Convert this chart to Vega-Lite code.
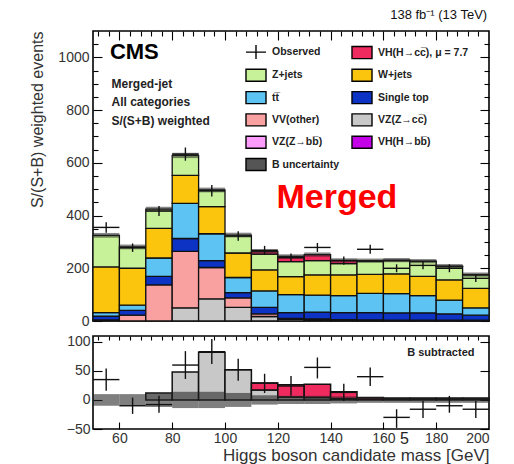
{
  "$schema": "https://vega.github.io/schema/vega-lite/v6.json",
  "padding": {"left": 29, "top": 8, "right": 0, "bottom": 0},
  "background": "white",
  "config": {
    "view": {"stroke": "#000", "strokeWidth": 1.6},
    "font": "Liberation Sans",
    "axis": {"grid": false, "domain": false, "labelFont": "Liberation Sans", "labelColor": "#333", "tickColor": "#000", "tickWidth": 1.1, "titleFont": "Liberation Sans", "titleFontWeight": "normal", "titleColor": "#333"},
    "legend": {"labelFont": "Liberation Sans"}
  },
  "datasets": {
    "top": [
      {"lo": 50, "hi": 60, "proc": "VV(other)", "k": 2, "v": 4},
      {"lo": 50, "hi": 60, "proc": "Single top", "k": 3, "v": 14},
      {"lo": 50, "hi": 60, "proc": "tt\u0305", "k": 4, "v": 14},
      {"lo": 50, "hi": 60, "proc": "W+jets", "k": 5, "v": 173},
      {"lo": 50, "hi": 60, "proc": "Z+jets", "k": 6, "v": 120},
      {"lo": 60, "hi": 70, "proc": "VV(other)", "k": 2, "v": 22},
      {"lo": 60, "hi": 70, "proc": "Single top", "k": 3, "v": 18},
      {"lo": 60, "hi": 70, "proc": "tt\u0305", "k": 4, "v": 20},
      {"lo": 60, "hi": 70, "proc": "W+jets", "k": 5, "v": 140},
      {"lo": 60, "hi": 70, "proc": "Z+jets", "k": 6, "v": 81},
      {"lo": 70, "hi": 80, "proc": "VV(other)", "k": 2, "v": 137},
      {"lo": 70, "hi": 80, "proc": "Single top", "k": 3, "v": 32},
      {"lo": 70, "hi": 80, "proc": "tt\u0305", "k": 4, "v": 70},
      {"lo": 70, "hi": 80, "proc": "W+jets", "k": 5, "v": 112},
      {"lo": 70, "hi": 80, "proc": "Z+jets", "k": 6, "v": 73},
      {"lo": 80, "hi": 90, "proc": "VZ(Z\u2192cc\u0305)", "k": 1, "v": 50},
      {"lo": 80, "hi": 90, "proc": "VV(other)", "k": 2, "v": 214},
      {"lo": 80, "hi": 90, "proc": "Single top", "k": 3, "v": 49},
      {"lo": 80, "hi": 90, "proc": "tt\u0305", "k": 4, "v": 133},
      {"lo": 80, "hi": 90, "proc": "W+jets", "k": 5, "v": 106},
      {"lo": 80, "hi": 90, "proc": "Z+jets", "k": 6, "v": 76},
      {"lo": 90, "hi": 100, "proc": "VZ(Z\u2192cc\u0305)", "k": 1, "v": 84},
      {"lo": 90, "hi": 100, "proc": "VV(other)", "k": 2, "v": 119},
      {"lo": 90, "hi": 100, "proc": "Single top", "k": 3, "v": 26},
      {"lo": 90, "hi": 100, "proc": "tt\u0305", "k": 4, "v": 102},
      {"lo": 90, "hi": 100, "proc": "W+jets", "k": 5, "v": 103},
      {"lo": 90, "hi": 100, "proc": "Z+jets", "k": 6, "v": 63},
      {"lo": 100, "hi": 110, "proc": "VZ(Z\u2192cc\u0305)", "k": 1, "v": 52},
      {"lo": 100, "hi": 110, "proc": "VV(other)", "k": 2, "v": 36},
      {"lo": 100, "hi": 110, "proc": "Single top", "k": 3, "v": 20},
      {"lo": 100, "hi": 110, "proc": "tt\u0305", "k": 4, "v": 57},
      {"lo": 100, "hi": 110, "proc": "W+jets", "k": 5, "v": 93},
      {"lo": 100, "hi": 110, "proc": "Z+jets", "k": 6, "v": 68},
      {"lo": 110, "hi": 120, "proc": "VZ(Z\u2192cc\u0305)", "k": 1, "v": 17},
      {"lo": 110, "hi": 120, "proc": "VV(other)", "k": 2, "v": 10},
      {"lo": 110, "hi": 120, "proc": "Single top", "k": 3, "v": 25},
      {"lo": 110, "hi": 120, "proc": "tt\u0305", "k": 4, "v": 62},
      {"lo": 110, "hi": 120, "proc": "W+jets", "k": 5, "v": 80},
      {"lo": 110, "hi": 120, "proc": "Z+jets", "k": 6, "v": 60},
      {"lo": 110, "hi": 120, "proc": "VH(H\u2192cc\u0305), \u03bc = 7.7", "k": 7, "v": 10},
      {"lo": 120, "hi": 130, "proc": "VZ(Z\u2192cc\u0305)", "k": 1, "v": 6},
      {"lo": 120, "hi": 130, "proc": "VV(other)", "k": 2, "v": 4},
      {"lo": 120, "hi": 130, "proc": "Single top", "k": 3, "v": 22},
      {"lo": 120, "hi": 130, "proc": "tt\u0305", "k": 4, "v": 68},
      {"lo": 120, "hi": 130, "proc": "W+jets", "k": 5, "v": 68},
      {"lo": 120, "hi": 130, "proc": "Z+jets", "k": 6, "v": 57},
      {"lo": 120, "hi": 130, "proc": "VH(H\u2192cc\u0305), \u03bc = 7.7", "k": 7, "v": 20},
      {"lo": 130, "hi": 140, "proc": "VZ(Z\u2192cc\u0305)", "k": 1, "v": 4},
      {"lo": 130, "hi": 140, "proc": "VV(other)", "k": 2, "v": 4},
      {"lo": 130, "hi": 140, "proc": "Single top", "k": 3, "v": 26},
      {"lo": 130, "hi": 140, "proc": "tt\u0305", "k": 4, "v": 64},
      {"lo": 130, "hi": 140, "proc": "W+jets", "k": 5, "v": 77},
      {"lo": 130, "hi": 140, "proc": "Z+jets", "k": 6, "v": 54},
      {"lo": 130, "hi": 140, "proc": "VH(H\u2192cc\u0305), \u03bc = 7.7", "k": 7, "v": 23},
      {"lo": 140, "hi": 150, "proc": "VZ(Z\u2192cc\u0305)", "k": 1, "v": 2},
      {"lo": 140, "hi": 150, "proc": "VV(other)", "k": 2, "v": 3},
      {"lo": 140, "hi": 150, "proc": "Single top", "k": 3, "v": 27},
      {"lo": 140, "hi": 150, "proc": "tt\u0305", "k": 4, "v": 64},
      {"lo": 140, "hi": 150, "proc": "W+jets", "k": 5, "v": 79},
      {"lo": 140, "hi": 150, "proc": "Z+jets", "k": 6, "v": 43},
      {"lo": 140, "hi": 150, "proc": "VH(H\u2192cc\u0305), \u03bc = 7.7", "k": 7, "v": 12},
      {"lo": 150, "hi": 160, "proc": "VZ(Z\u2192cc\u0305)", "k": 1, "v": 1},
      {"lo": 150, "hi": 160, "proc": "VV(other)", "k": 2, "v": 3},
      {"lo": 150, "hi": 160, "proc": "Single top", "k": 3, "v": 28},
      {"lo": 150, "hi": 160, "proc": "tt\u0305", "k": 4, "v": 73},
      {"lo": 150, "hi": 160, "proc": "W+jets", "k": 5, "v": 72},
      {"lo": 150, "hi": 160, "proc": "Z+jets", "k": 6, "v": 49},
      {"lo": 150, "hi": 160, "proc": "VH(H\u2192cc\u0305), \u03bc = 7.7", "k": 7, "v": 3},
      {"lo": 160, "hi": 170, "proc": "VZ(Z\u2192cc\u0305)", "k": 1, "v": 1},
      {"lo": 160, "hi": 170, "proc": "VV(other)", "k": 2, "v": 2},
      {"lo": 160, "hi": 170, "proc": "Single top", "k": 3, "v": 28},
      {"lo": 160, "hi": 170, "proc": "tt\u0305", "k": 4, "v": 73},
      {"lo": 160, "hi": 170, "proc": "W+jets", "k": 5, "v": 75},
      {"lo": 160, "hi": 170, "proc": "Z+jets", "k": 6, "v": 50},
      {"lo": 160, "hi": 170, "proc": "VH(H\u2192cc\u0305), \u03bc = 7.7", "k": 7, "v": 2},
      {"lo": 170, "hi": 180, "proc": "VZ(Z\u2192cc\u0305)", "k": 1, "v": 1},
      {"lo": 170, "hi": 180, "proc": "VV(other)", "k": 2, "v": 2},
      {"lo": 170, "hi": 180, "proc": "Single top", "k": 3, "v": 28},
      {"lo": 170, "hi": 180, "proc": "tt\u0305", "k": 4, "v": 65},
      {"lo": 170, "hi": 180, "proc": "W+jets", "k": 5, "v": 73},
      {"lo": 170, "hi": 180, "proc": "Z+jets", "k": 6, "v": 57},
      {"lo": 170, "hi": 180, "proc": "VH(H\u2192cc\u0305), \u03bc = 7.7", "k": 7, "v": 1},
      {"lo": 180, "hi": 190, "proc": "VZ(Z\u2192cc\u0305)", "k": 1, "v": 1},
      {"lo": 180, "hi": 190, "proc": "VV(other)", "k": 2, "v": 2},
      {"lo": 180, "hi": 190, "proc": "Single top", "k": 3, "v": 24},
      {"lo": 180, "hi": 190, "proc": "tt\u0305", "k": 4, "v": 52},
      {"lo": 180, "hi": 190, "proc": "W+jets", "k": 5, "v": 77},
      {"lo": 180, "hi": 190, "proc": "Z+jets", "k": 6, "v": 51},
      {"lo": 180, "hi": 190, "proc": "VH(H\u2192cc\u0305), \u03bc = 7.7", "k": 7, "v": 1},
      {"lo": 190, "hi": 200, "proc": "VZ(Z\u2192cc\u0305)", "k": 1, "v": 1},
      {"lo": 190, "hi": 200, "proc": "VV(other)", "k": 2, "v": 2},
      {"lo": 190, "hi": 200, "proc": "Single top", "k": 3, "v": 19},
      {"lo": 190, "hi": 200, "proc": "tt\u0305", "k": 4, "v": 28},
      {"lo": 190, "hi": 200, "proc": "W+jets", "k": 5, "v": 74},
      {"lo": 190, "hi": 200, "proc": "Z+jets", "k": 6, "v": 51},
      {"lo": 190, "hi": 200, "proc": "VH(H\u2192cc\u0305), \u03bc = 7.7", "k": 7, "v": 1}
    ],
    "bandTop": [
      {"lo": 50, "hi": 60, "low": 316, "high": 334},
      {"lo": 60, "hi": 70, "low": 272, "high": 290},
      {"lo": 70, "hi": 80, "low": 415, "high": 433},
      {"lo": 80, "hi": 90, "low": 618, "high": 638},
      {"lo": 90, "hi": 100, "low": 488, "high": 506},
      {"lo": 100, "hi": 110, "low": 317, "high": 335},
      {"lo": 110, "hi": 120, "low": 256, "high": 272},
      {"lo": 120, "hi": 130, "low": 237, "high": 253},
      {"lo": 130, "hi": 140, "low": 244, "high": 260},
      {"lo": 140, "hi": 150, "low": 222, "high": 238},
      {"lo": 150, "hi": 160, "low": 221, "high": 237},
      {"lo": 160, "hi": 170, "low": 223, "high": 239},
      {"lo": 170, "hi": 180, "low": 219, "high": 235},
      {"lo": 180, "hi": 190, "low": 200, "high": 216},
      {"lo": 190, "hi": 200, "low": 168, "high": 184}
    ],
    "obsTop": [
      {"c": 55, "lo": 50, "hi": 60, "n": 355, "elo": 335, "ehi": 375},
      {"c": 65, "lo": 60, "hi": 70, "n": 278, "elo": 262, "ehi": 294},
      {"c": 75, "lo": 70, "hi": 80, "n": 417, "elo": 398, "ehi": 436},
      {"c": 85, "lo": 80, "hi": 90, "n": 633, "elo": 608, "ehi": 658},
      {"c": 95, "lo": 90, "hi": 100, "n": 494, "elo": 472, "ehi": 516},
      {"c": 105, "lo": 100, "hi": 110, "n": 322, "elo": 304, "ehi": 340},
      {"c": 115, "lo": 110, "hi": 120, "n": 268, "elo": 251, "ehi": 285},
      {"c": 125, "lo": 120, "hi": 130, "n": 240, "elo": 224, "ehi": 256},
      {"c": 135, "lo": 130, "hi": 140, "n": 279, "elo": 262, "ehi": 296},
      {"c": 145, "lo": 140, "hi": 150, "n": 229, "elo": 213, "ehi": 245},
      {"c": 155, "lo": 150, "hi": 160, "n": 272, "elo": 255, "ehi": 289},
      {"c": 165, "lo": 160, "hi": 170, "n": 200, "elo": 185, "ehi": 215},
      {"c": 175, "lo": 170, "hi": 180, "n": 211, "elo": 196, "ehi": 226},
      {"c": 185, "lo": 180, "hi": 190, "n": 200, "elo": 185, "ehi": 215},
      {"c": 195, "lo": 190, "hi": 200, "n": 162, "elo": 148, "ehi": 176}
    ],
    "sig": [
      {"lo": 70, "hi": 80, "proc": "VZ(Z\u2192cc\u0305)", "k": 1, "v": 12},
      {"lo": 80, "hi": 90, "proc": "VZ(Z\u2192cc\u0305)", "k": 1, "v": 48},
      {"lo": 90, "hi": 100, "proc": "VZ(Z\u2192cc\u0305)", "k": 1, "v": 82},
      {"lo": 100, "hi": 110, "proc": "VZ(Z\u2192cc\u0305)", "k": 1, "v": 52},
      {"lo": 110, "hi": 120, "proc": "VZ(Z\u2192cc\u0305)", "k": 1, "v": 17},
      {"lo": 110, "hi": 120, "proc": "VH(H\u2192cc\u0305), \u03bc = 7.7", "k": 2, "v": 12},
      {"lo": 120, "hi": 130, "proc": "VZ(Z\u2192cc\u0305)", "k": 1, "v": 5},
      {"lo": 120, "hi": 130, "proc": "VH(H\u2192cc\u0305), \u03bc = 7.7", "k": 2, "v": 21},
      {"lo": 130, "hi": 140, "proc": "VZ(Z\u2192cc\u0305)", "k": 1, "v": 4},
      {"lo": 130, "hi": 140, "proc": "VH(H\u2192cc\u0305), \u03bc = 7.7", "k": 2, "v": 23},
      {"lo": 140, "hi": 150, "proc": "VZ(Z\u2192cc\u0305)", "k": 1, "v": 2},
      {"lo": 140, "hi": 150, "proc": "VH(H\u2192cc\u0305), \u03bc = 7.7", "k": 2, "v": 12},
      {"lo": 150, "hi": 160, "proc": "VZ(Z\u2192cc\u0305)", "k": 1, "v": 1},
      {"lo": 150, "hi": 160, "proc": "VH(H\u2192cc\u0305), \u03bc = 7.7", "k": 2, "v": 3},
      {"lo": 160, "hi": 170, "proc": "VZ(Z\u2192cc\u0305)", "k": 1, "v": 1},
      {"lo": 160, "hi": 170, "proc": "VH(H\u2192cc\u0305), \u03bc = 7.7", "k": 2, "v": 2},
      {"lo": 170, "hi": 180, "proc": "VZ(Z\u2192cc\u0305)", "k": 1, "v": 1},
      {"lo": 170, "hi": 180, "proc": "VH(H\u2192cc\u0305), \u03bc = 7.7", "k": 2, "v": 2},
      {"lo": 180, "hi": 190, "proc": "VZ(Z\u2192cc\u0305)", "k": 1, "v": 1},
      {"lo": 180, "hi": 190, "proc": "VH(H\u2192cc\u0305), \u03bc = 7.7", "k": 2, "v": 2},
      {"lo": 190, "hi": 200, "proc": "VZ(Z\u2192cc\u0305)", "k": 1, "v": 1},
      {"lo": 190, "hi": 200, "proc": "VH(H\u2192cc\u0305), \u03bc = 7.7", "k": 2, "v": 2}
    ],
    "bandBot": [
      {"lo": 50, "hi": 60, "low": -10, "high": 10},
      {"lo": 60, "hi": 70, "low": -10, "high": 10},
      {"lo": 70, "hi": 80, "low": -12, "high": 12},
      {"lo": 80, "hi": 90, "low": -14, "high": 14},
      {"lo": 90, "hi": 100, "low": -14, "high": 14},
      {"lo": 100, "hi": 110, "low": -12, "high": 12},
      {"lo": 110, "hi": 120, "low": -8, "high": 8},
      {"lo": 120, "hi": 130, "low": -7, "high": 7},
      {"lo": 130, "hi": 140, "low": -7, "high": 7},
      {"lo": 140, "hi": 150, "low": -6, "high": 6},
      {"lo": 150, "hi": 160, "low": -5, "high": 5},
      {"lo": 160, "hi": 170, "low": -5, "high": 5},
      {"lo": 170, "hi": 180, "low": -5, "high": 5},
      {"lo": 180, "hi": 190, "low": -5, "high": 5},
      {"lo": 190, "hi": 200, "low": -5, "high": 5}
    ],
    "obsBot": [
      {"c": 55, "lo": 50, "hi": 60, "d": 35, "elo": 16, "ehi": 54},
      {"c": 65, "lo": 60, "hi": 70, "d": -10, "elo": -24, "ehi": 4},
      {"c": 75, "lo": 70, "hi": 80, "d": -8, "elo": -22, "ehi": 7},
      {"c": 85, "lo": 80, "hi": 90, "d": 60, "elo": 36, "ehi": 84},
      {"c": 95, "lo": 90, "hi": 100, "d": 83, "elo": 62, "ehi": 105},
      {"c": 105, "lo": 100, "hi": 110, "d": 52, "elo": 33, "ehi": 71},
      {"c": 115, "lo": 110, "hi": 120, "d": 29, "elo": 12, "ehi": 45},
      {"c": 125, "lo": 120, "hi": 130, "d": 24, "elo": 7, "ehi": 41},
      {"c": 135, "lo": 130, "hi": 140, "d": 56, "elo": 37, "ehi": 73},
      {"c": 145, "lo": 140, "hi": 150, "d": 13, "elo": -2, "ehi": 28},
      {"c": 155, "lo": 150, "hi": 160, "d": 40, "elo": 24, "ehi": 56},
      {"c": 165, "lo": 160, "hi": 170, "d": -30, "elo": -48, "ehi": -16},
      {"c": 175, "lo": 170, "hi": 180, "d": -16, "elo": -31, "ehi": -2},
      {"c": 185, "lo": 180, "hi": 190, "d": -10, "elo": -22, "ehi": 7},
      {"c": 195, "lo": 190, "hi": 200, "d": -16, "elo": -31, "ehi": -2}
    ]
  },
  "vconcat": [
    {
      "width": 396,
      "height": 290,
      "resolve": {"axis": {"x": "independent", "y": "independent"}},
      "layer": [
        {
          "data": {"name": "top"},
          "transform": [{"stack": "v", "groupby": ["lo"], "sort": [{"field": "k", "order": "ascending"}], "as": ["y0", "y1"]}],
          "mark": {"type": "bar", "stroke": "#111", "strokeWidth": 1.3},
          "encoding": {
            "x": {"field": "lo", "type": "quantitative", "scale": {"domain": [50, 200], "nice": false, "zero": false},
                  "axis": {"orient": "bottom", "values": [60, 80, 100, 120, 140, 160, 180], "labels": false, "tickSize": -9, "title": null}},
            "x2": {"field": "hi"},
            "y": {"field": "y0", "type": "quantitative", "scale": {"domain": [0, 1100], "nice": false},
                  "axis": {"orient": "left", "values": [0, 200, 400, 600, 800, 1000], "format": "d", "ticks": false, "labelPadding": 4, "labelFontSize": 14,
                           "title": "S/(S+B) weighted events", "titleAnchor": "end", "titleFontSize": 16, "titlePadding": 12}},
            "y2": {"field": "y1"},
            "color": {
              "field": "proc", "type": "nominal",
              "scale": {
                "domain": ["Observed", "VH(H\u2192cc\u0305), \u03bc = 7.7", "Z+jets", "W+jets", "tt\u0305", "Single top", "VV(other)", "VZ(Z\u2192cc\u0305)", "VZ(Z\u2192bb\u0305)", "VH(H\u2192bb\u0305)", "B uncertainty"],
                "range": ["#000000", "#ee2a5e", "#c8f29a", "#fcc50d", "#5cc3f3", "#0d33c4", "#f9a1a1", "#c8c8c8", "#fd9cfd", "#c400e8", "#555555"]
              },
              "legend": {
                "orient": "none", "legendX": 155, "legendY": 13, "columns": 2, "direction": "horizontal", "title": null, "padding": 0,
                "symbolType": "M-1.43,-0.86H1.43V0.86H-1.43Z", "symbolSize": 196, "symbolStrokeColor": "#000", "symbolStrokeWidth": 1.4, "symbolOpacity": 1,
                "labelFontWeight": "bold", "labelFontSize": 10.5, "labelColor": "#222", "labelOffset": 8, "rowPadding": 4.3, "columnPadding": 9, "labelLimit": 200,
                "encode": {"symbols": {"update": {"shape": {"signal": "datum.value === 'Observed' ? 'M-1.43,0H1.43M0,-1V1' : 'M-1.43,-0.86H1.43V0.86H-1.43Z'"}}}}
              }
            }
          }
        },
        {
          "data": {"name": "bandTop"},
          "mark": {"type": "bar", "fill": "#222", "opacity": 0.55},
          "encoding": {
            "x": {"field": "lo", "type": "quantitative", "scale": {"domain": [50, 200], "nice": false, "zero": false},
                  "axis": {"orient": "top", "values": [60, 80, 100, 120, 140, 160, 180], "labels": false, "tickSize": -9, "title": null}},
            "x2": {"field": "hi"},
            "y": {"field": "low", "type": "quantitative", "scale": {"domain": [0, 1100], "nice": false},
                  "axis": {"orient": "left", "values": [0, 200, 400, 600, 800, 1000], "labels": false, "tickSize": -9, "title": null}},
            "y2": {"field": "high"}
          }
        },
        {
          "data": {"name": "obsTop"},
          "mark": {"type": "rule", "stroke": "#111", "strokeWidth": 1.4},
          "encoding": {
            "x": {"field": "lo", "type": "quantitative", "scale": {"domain": [50, 200], "nice": false, "zero": false},
                  "axis": {"orient": "bottom", "values": [52, 56, 64, 68, 72, 76, 84, 88, 92, 96, 104, 108, 112, 116, 124, 128, 132, 136, 144, 148, 152, 156, 164, 168, 172, 176, 184, 188, 192, 196], "labels": false, "tickSize": -5, "title": null}},
            "x2": {"field": "hi"},
            "y": {"field": "n", "type": "quantitative", "scale": {"domain": [0, 1100], "nice": false},
                  "axis": {"orient": "left", "values": [50, 100, 150, 250, 300, 350, 450, 500, 550, 650, 700, 750, 850, 900, 950, 1050], "labels": false, "tickSize": -5, "title": null}}
          }
        },
        {
          "data": {"name": "obsTop"},
          "mark": {"type": "rule", "stroke": "#111", "strokeWidth": 1.4},
          "encoding": {
            "x": {"field": "c", "type": "quantitative", "scale": {"domain": [50, 200], "nice": false, "zero": false},
                  "axis": {"orient": "top", "values": [52, 56, 64, 68, 72, 76, 84, 88, 92, 96, 104, 108, 112, 116, 124, 128, 132, 136, 144, 148, 152, 156, 164, 168, 172, 176, 184, 188, 192, 196], "labels": false, "tickSize": -5, "title": null}},
            "y": {"field": "elo", "type": "quantitative", "scale": {"domain": [0, 1100], "nice": false},
                  "axis": {"orient": "right", "values": [0, 200, 400, 600, 800, 1000], "labels": false, "tickSize": -9, "title": null}},
            "y2": {"field": "ehi"}
          }
        },
        {
          "data": {"values": [{"x": 56.4, "y": 994, "t": "CMS"}]},
          "mark": {"type": "text", "align": "left", "baseline": "alphabetic", "fontSize": 22, "fontWeight": "bold", "color": "#000"},
          "encoding": {
            "x": {"field": "x", "type": "quantitative", "scale": {"domain": [50, 200], "nice": false, "zero": false}, "axis": null},
            "y": {"field": "y", "type": "quantitative", "scale": {"domain": [0, 1100], "nice": false},
                  "axis": {"orient": "right", "values": [50, 100, 150, 250, 300, 350, 450, 500, 550, 650, 700, 750, 850, 900, 950, 1050], "labels": false, "tickSize": -5, "title": null}},
            "text": {"field": "t"}
          }
        },
        {
          "data": {"values": [{"x": 57, "y": 883, "t": "Merged-jet"}, {"x": 57, "y": 815, "t": "All categories"}, {"x": 57, "y": 743, "t": "S/(S+B) weighted"}]},
          "mark": {"type": "text", "align": "left", "baseline": "alphabetic", "fontSize": 12, "fontWeight": "bold", "color": "#222"},
          "encoding": {
            "x": {"field": "x", "type": "quantitative", "scale": {"domain": [50, 200], "nice": false, "zero": false}, "axis": null},
            "y": {"field": "y", "type": "quantitative", "scale": {"domain": [0, 1100], "nice": false}, "axis": null},
            "text": {"field": "t"}
          }
        },
        {
          "data": {"values": [{"x": 142.4, "y": 430, "t": "Merged"}]},
          "mark": {"type": "text", "align": "center", "baseline": "alphabetic", "fontSize": 34, "fontWeight": "bold", "color": "#ff0000"},
          "encoding": {
            "x": {"field": "x", "type": "quantitative", "scale": {"domain": [50, 200], "nice": false, "zero": false}, "axis": null},
            "y": {"field": "y", "type": "quantitative", "scale": {"domain": [0, 1100], "nice": false}, "axis": null},
            "text": {"field": "t"}
          }
        },
        {
          "data": {"values": [{"x": 199.3, "y": 1145, "t": "138 fb\u207b\u00b9 (13 TeV)"}]},
          "mark": {"type": "text", "align": "right", "baseline": "alphabetic", "fontSize": 13, "color": "#111"},
          "encoding": {
            "x": {"field": "x", "type": "quantitative", "scale": {"domain": [50, 200], "nice": false, "zero": false}, "axis": null},
            "y": {"field": "y", "type": "quantitative", "scale": {"domain": [0, 1100], "nice": false}, "axis": null},
            "text": {"field": "t"}
          }
        }
      ]
    },
    {
      "width": 396,
      "height": 93,
      "resolve": {"axis": {"x": "independent", "y": "independent"}},
      "layer": [
        {
          "data": {"name": "sig"},
          "transform": [{"stack": "v", "groupby": ["lo"], "sort": [{"field": "k", "order": "ascending"}], "as": ["y0", "y1"]}],
          "mark": {"type": "bar", "stroke": "#111", "strokeWidth": 1.5},
          "encoding": {
            "x": {"field": "lo", "type": "quantitative", "scale": {"domain": [50, 200], "nice": false, "zero": false},
                  "axis": {"orient": "bottom", "values": [60, 80, 100, 120, 140, 160, 180, 200], "ticks": false, "labelPadding": 2, "labelFontSize": 14,
                           "title": "Higgs boson candidate mass [GeV]", "titleAnchor": "end", "titleFontSize": 17, "titlePadding": 2}},
            "x2": {"field": "hi"},
            "y": {"field": "y0", "type": "quantitative", "scale": {"domain": [-50, 110], "nice": false, "zero": false},
                  "axis": {"orient": "left", "values": [-50, 0, 50, 100], "ticks": false, "labelPadding": 3, "labelFontSize": 14, "title": null}},
            "y2": {"field": "y1"},
            "color": {"field": "proc", "type": "nominal", "legend": null,
              "scale": {
                "domain": ["Observed", "VH(H\u2192cc\u0305), \u03bc = 7.7", "Z+jets", "W+jets", "tt\u0305", "Single top", "VV(other)", "VZ(Z\u2192cc\u0305)", "VZ(Z\u2192bb\u0305)", "VH(H\u2192bb\u0305)", "B uncertainty"],
                "range": ["#000000", "#ee2a5e", "#c8f29a", "#fcc50d", "#5cc3f3", "#0d33c4", "#f9a1a1", "#c8c8c8", "#fd9cfd", "#c400e8", "#555555"]
              }
            }
          }
        },
        {
          "data": {"name": "bandBot"},
          "mark": {"type": "bar", "fill": "#222", "opacity": 0.58},
          "encoding": {
            "x": {"field": "lo", "type": "quantitative", "scale": {"domain": [50, 200], "nice": false, "zero": false},
                  "axis": {"orient": "bottom", "values": [60, 80, 100, 120, 140, 160, 180], "labels": false, "tickSize": -7, "title": null}},
            "x2": {"field": "hi"},
            "y": {"field": "low", "type": "quantitative", "scale": {"domain": [-50, 110], "nice": false, "zero": false},
                  "axis": {"orient": "left", "values": [-50, 0, 50, 100], "labels": false, "tickSize": -9, "title": null}},
            "y2": {"field": "high"}
          }
        },
        {
          "data": {"name": "obsBot"},
          "mark": {"type": "rule", "stroke": "#111", "strokeWidth": 1.4},
          "encoding": {
            "x": {"field": "lo", "type": "quantitative", "scale": {"domain": [50, 200], "nice": false, "zero": false},
                  "axis": {"orient": "top", "values": [52, 56, 60, 64, 68, 72, 76, 80, 84, 88, 92, 96, 100, 104, 108, 112, 116, 120, 124, 128, 132, 136, 140, 144, 148, 152, 156, 160, 164, 168, 172, 176, 180, 184, 188, 192, 196], "labels": false, "tickSize": -4, "title": null}},
            "x2": {"field": "hi"},
            "y": {"field": "d", "type": "quantitative", "scale": {"domain": [-50, 110], "nice": false, "zero": false},
                  "axis": {"orient": "right", "values": [-50, 0, 50, 100], "labels": false, "tickSize": -9, "title": null}}
          }
        },
        {
          "data": {"name": "obsBot"},
          "mark": {"type": "rule", "stroke": "#111", "strokeWidth": 1.4},
          "encoding": {
            "x": {"field": "c", "type": "quantitative", "scale": {"domain": [50, 200], "nice": false, "zero": false}, "axis": null},
            "y": {"field": "elo", "type": "quantitative", "scale": {"domain": [-50, 110], "nice": false, "zero": false}, "axis": null},
            "y2": {"field": "ehi"}
          }
        },
        {
          "data": {"values": [{"x": 194.5, "y": 75.6, "t": "B subtracted"}]},
          "mark": {"type": "text", "align": "right", "baseline": "alphabetic", "fontSize": 11, "fontWeight": "bold", "color": "#222"},
          "encoding": {
            "x": {"field": "x", "type": "quantitative", "scale": {"domain": [50, 200], "nice": false, "zero": false}, "axis": null},
            "y": {"field": "y", "type": "quantitative", "scale": {"domain": [-50, 110], "nice": false, "zero": false}, "axis": null},
            "text": {"field": "t"}
          }
        },
        {
          "data": {"values": [{"x": 168, "y": -75, "t": "5"}]},
          "mark": {"type": "text", "align": "center", "baseline": "alphabetic", "fontSize": 16, "color": "#222"},
          "encoding": {
            "x": {"field": "x", "type": "quantitative", "scale": {"domain": [50, 200], "nice": false, "zero": false}, "axis": null},
            "y": {"field": "y", "type": "quantitative", "scale": {"domain": [-50, 110], "nice": false, "zero": false}, "axis": null},
            "text": {"field": "t"}
          }
        }
      ]
    }
  ],
  "spacing": 15,
  "bounds": "flush"
}
